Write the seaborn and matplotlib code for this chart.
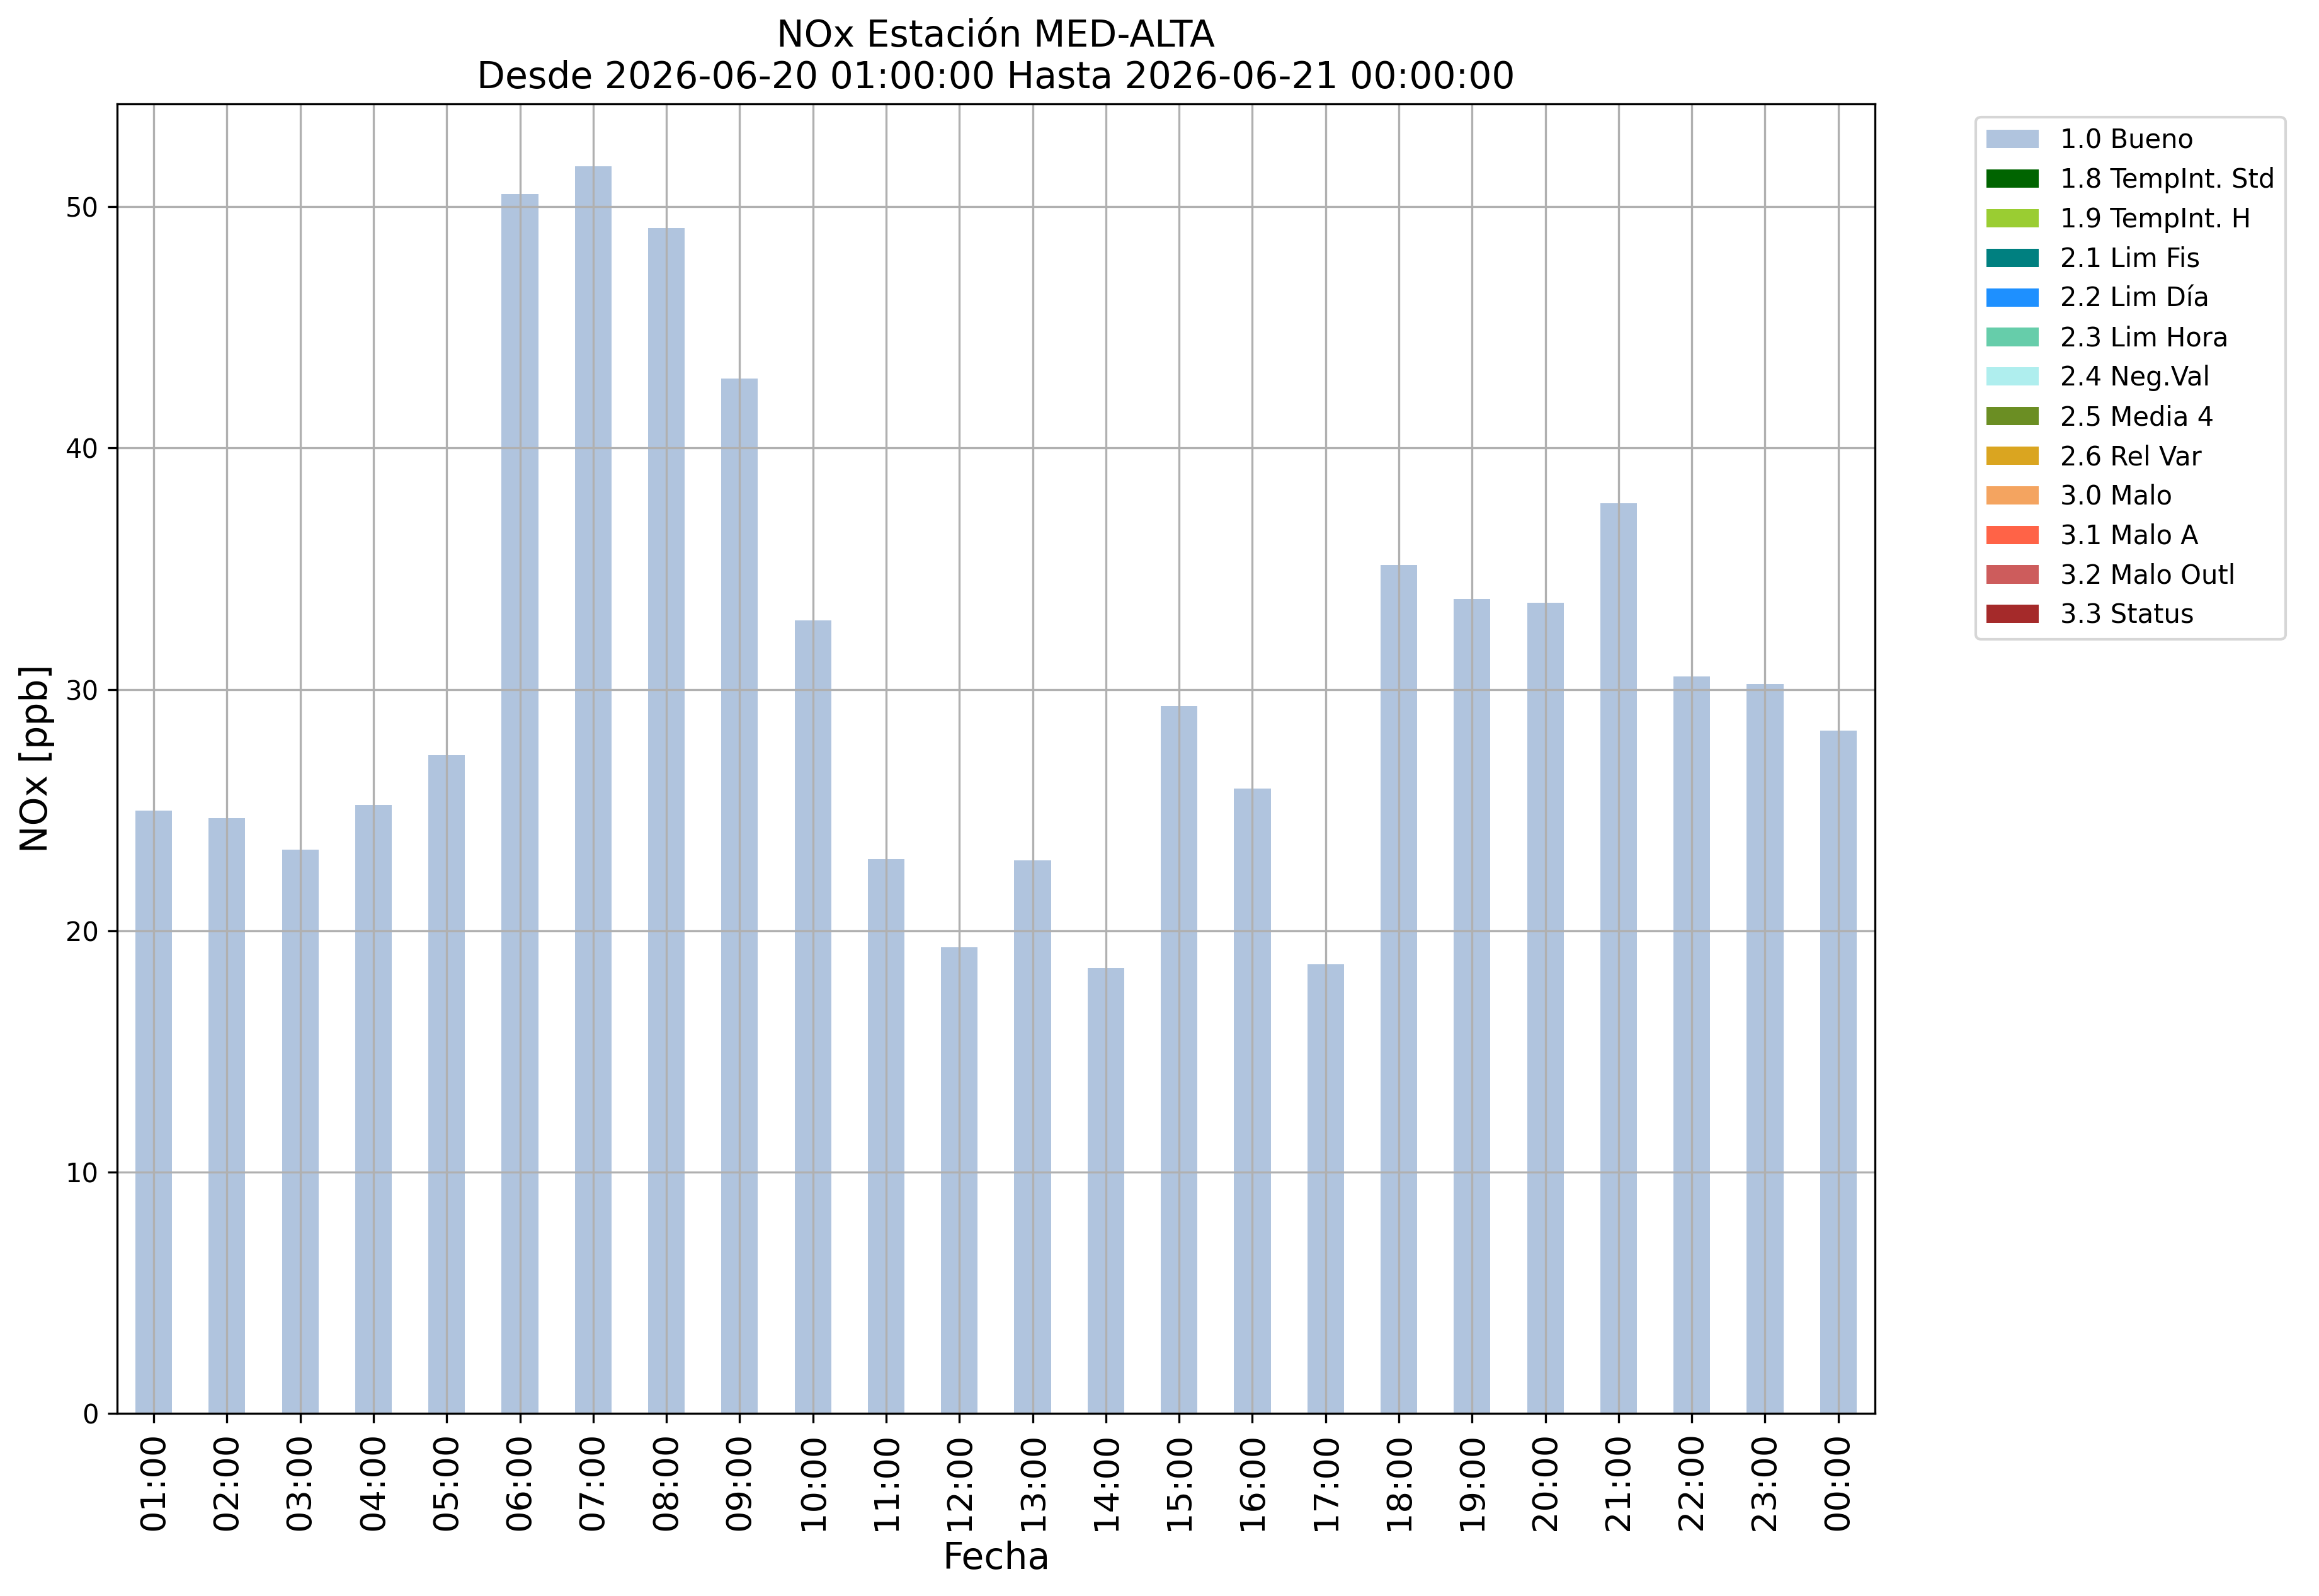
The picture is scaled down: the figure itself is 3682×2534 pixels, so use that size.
import matplotlib
matplotlib.use('Agg')
import matplotlib.pyplot as plt
import pandas as pd
import seaborn as sns

# Hourly NOx values (ppb)
horas = ['01:00', '02:00', '03:00', '04:00', '05:00', '06:00', '07:00', '08:00',
         '09:00', '10:00', '11:00', '12:00', '13:00', '14:00', '15:00', '16:00',
         '17:00', '18:00', '19:00', '20:00', '21:00', '22:00', '23:00', '00:00']
nox = [24.97, 24.66, 23.36, 25.22, 27.27, 50.54, 51.68, 49.11,
       42.89, 32.87, 22.96, 19.32, 22.91, 18.46, 29.32, 25.90,
       18.62, 35.15, 33.75, 33.59, 37.72, 30.54, 30.23, 28.30]

# Validation flags and their colours
flags = ['1.0 Bueno', '1.8 TempInt. Std', '1.9 TempInt. H', '2.1 Lim Fis',
         '2.2 Lim Día', '2.3 Lim Hora', '2.4 Neg.Val', '2.5 Media 4',
         '2.6 Rel Var', '3.0 Malo', '3.1 Malo A', '3.2 Malo Outl', '3.3 Status']
flag_colors = ['lightsteelblue', 'darkgreen', 'yellowgreen', 'teal',
               'dodgerblue', 'mediumaquamarine', 'paleturquoise', 'olivedrab',
               'goldenrod', 'sandybrown', 'tomato', 'indianred', 'brown']

# Long table: every hour is flagged "Bueno", other flags carry zero
rows = []
for f in flags:
    for h, v in zip(horas, nox):
        rows.append({'Fecha': h, 'flag': f, 'valor': v if f == flags[0] else 0.0})
df = pd.DataFrame(rows)

fig, ax = plt.subplots(figsize=(3682 / 300, 2534 / 300), dpi=300)
fig.subplots_adjust(left=0.0505, right=0.8085, bottom=0.1144, top=0.9349)

sns.barplot(data=df, x='Fecha', y='valor', hue='flag', order=horas,
            hue_order=flags, palette=dict(zip(flags, flag_colors)),
            dodge=False, width=0.5, saturation=1, linewidth=0,
            errorbar=None, ax=ax)

ax.grid(True)
ax.set_xlim(-0.5, len(horas) - 0.5)
ax.tick_params(axis='x', labelrotation=90, labelsize=13)
ax.tick_params(axis='y', labelsize=10)
ax.set_xlabel('Fecha', fontsize=14)
ax.set_ylabel('NOx [ppb]', fontsize=14)
ax.set_title('NOx Estación MED-ALTA\nDesde 2026-06-20 01:00:00 Hasta 2026-06-21 00:00:00',
             fontsize=14)

sns.move_legend(ax, 'upper left', bbox_to_anchor=(1.05, 1), title=None,
                fontsize=10, frameon=True)

fig.savefig('out.png', dpi=300)
